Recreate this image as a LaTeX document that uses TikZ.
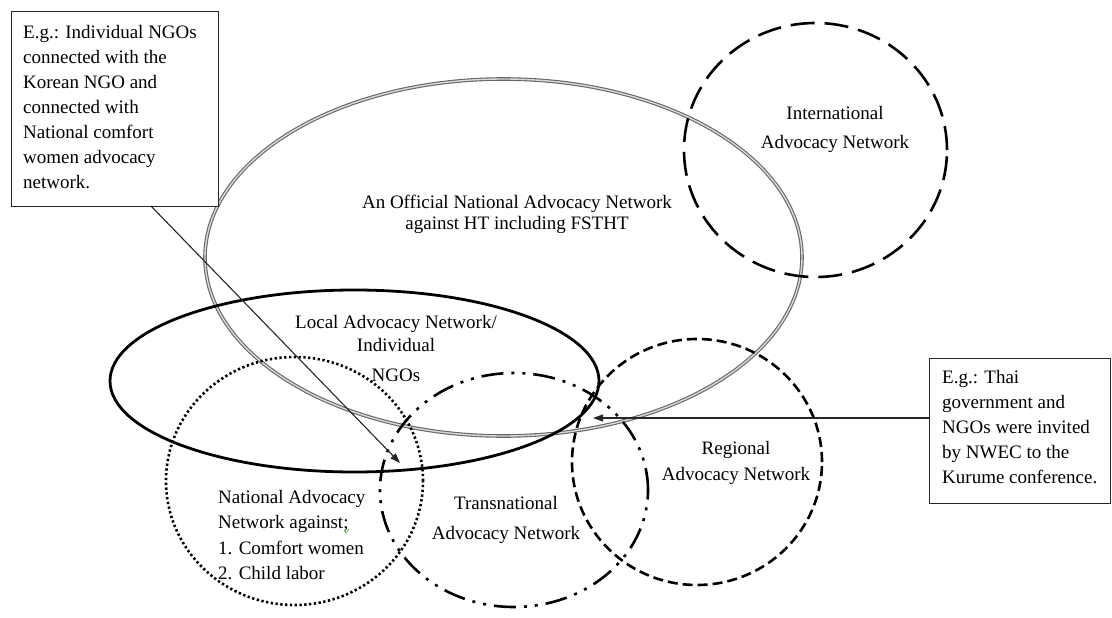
\documentclass[tikz,border=0pt]{standalone}
\usepackage{fontspec}
\setmainfont{Liberation Serif}
\usetikzlibrary{arrows.meta}
\begin{document}
\begin{tikzpicture}[x=1pt,y=-1pt,
  txt/.style={inner sep=0pt, font=\fontsize{19}{#1}\selectfont},
  txt/.default=25,
  notebox/.style={draw=black!85, line width=1.3pt, fill=white, inner sep=0pt, anchor=north west},
  pointer/.style={draw=black!85, line width=1.1pt, -{Triangle[length=10pt,width=7pt]}},
  officialnet/.style={draw=black!60, double=black!15, double distance=1.4pt, line width=1.1pt},
  localnet/.style={draw=black, line width=2.8pt},
  nationalnet/.style={draw=black, line width=2.6pt, dash pattern=on 2.3pt off 2.5pt},
  transnet/.style={draw=black, line width=2.6pt, dash pattern=on 22pt off 8pt on 3pt off 8pt on 3pt off 8pt},
  regionalnet/.style={draw=black, line width=2.6pt, dash pattern=on 10pt off 5pt},
  intlnet/.style={draw=black, line width=2.6pt, dash pattern=on 24pt off 10pt}
]
\useasboundingbox (0,0) rectangle (1112,618);

% network circles and ellipses
\draw[officialnet] (503.5,257.5) ellipse [x radius=298.5pt, y radius=178.5pt];
\draw[intlnet] (815.5,150) ellipse [x radius=131.5pt, y radius=127pt];
\draw[localnet] (354.5,381) ellipse [x radius=244.5pt, y radius=91pt];
\draw[nationalnet] (294.5,481) ellipse [x radius=128.5pt, y radius=124pt];
\draw[transnet] (514,490) ellipse [x radius=134pt, y radius=117pt];
\draw[regionalnet] (697,462) ellipse [x radius=125pt, y radius=123pt];

% labels of the networks
\node[txt=29, align=center, anchor=north] (intl) at (835,106)
  {International\\Advocacy Network};
\node[txt=21, align=center, anchor=north] (official) at (517,195)
  {An Official National Advocacy Network\\against HT including FSTHT};
\node[txt=23, align=center, anchor=north] (local) at (396,315)
  {Local Advocacy Network/\\Individual\\[7pt]NGOs};
\node[txt=25.5, align=left, anchor=north west] (national) at (218,490)
  {National Advocacy\\Network against;\\1. Comfort women\\2. Child labor};
\node[txt=30, align=center, anchor=north] (trans) at (506,496)
  {Transnational\\Advocacy Network};
\node[txt=26, align=center, anchor=north] (regional) at (736,441)
  {Regional\\Advocacy Network};
\draw[green!60!black, line width=0.5pt] (344,530) -- (346,533) -- (349,529);

% example boxes
\node[notebox, minimum width=207pt, minimum height=195pt] (ex1) at (11,11) {};
\node[txt=25, align=left, anchor=north west] (ex1text) at (23,25)
  {E.g.: Individual NGOs\\connected with the\\Korean NGO and\\connected with\\National comfort\\women advocacy\\network.};
\node[notebox, minimum width=181pt, minimum height=145pt] (ex2) at (929,358) {};
\node[txt=25, align=left, anchor=north west] (ex2text) at (942,370)
  {E.g.: Thai\\government and\\NGOs were invited\\by NWEC to the\\Kurume conference.};

% pointers from the boxes
\coordinate (ex1from) at (151,206);
\coordinate (ex1to) at (400,463);
\coordinate (ex2from) at (929,418);
\coordinate (ex2to) at (593,418);
\draw[pointer] (ex1from) -- (ex1to);
\draw[pointer] (ex2from) -- (ex2to);
\end{tikzpicture}
\end{document}
